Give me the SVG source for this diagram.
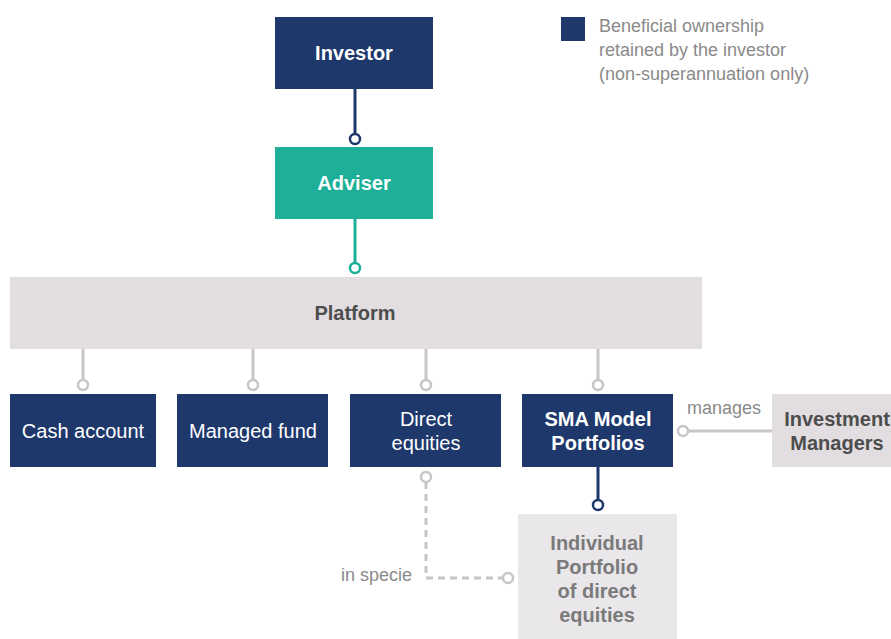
<svg xmlns="http://www.w3.org/2000/svg" width="891" height="639" viewBox="0 0 891 639">
<style>
.navy{fill:#1e386c}
.teal{fill:#1daf98}
.grey{fill:#e2dde0}
.lgrey{fill:#e9e7ea}
text{font-family:"Liberation Sans",Arial,sans-serif}
.tb{font-size:20px;font-weight:bold;text-anchor:middle}
.tw{fill:#ffffff}
.tn{font-size:20px;text-anchor:middle;fill:#ffffff}
.lab{font-size:18px;fill:#8a8a8a}
.ln{fill:none;stroke-width:3}
.dot{fill:#ffffff;stroke-width:2.5}
</style>
<rect width="891" height="639" fill="#ffffff"/>
<g id="legend">
<rect x="561" y="17" width="24" height="24" class="navy"/>
<text x="599" y="32" class="lab">Beneficial ownership</text>
<text x="599" y="56" class="lab">retained by the investor</text>
<text x="599" y="80" class="lab">(non-superannuation only)</text>
</g>
<g id="connectors">
<line x1="355" y1="89" x2="355" y2="134" class="ln" stroke="#1e386c"/>
<circle cx="355" cy="139" r="5" class="dot" stroke="#1e386c"/>
<line x1="355" y1="219" x2="355" y2="263" class="ln" stroke="#1daf98"/>
<circle cx="355" cy="268" r="5" class="dot" stroke="#1daf98"/>
<g stroke="#c9c4c8">
<line x1="83" y1="349" x2="83" y2="380" class="ln"/>
<circle cx="83" cy="385" r="5" class="dot"/>
<line x1="253" y1="349" x2="253" y2="380" class="ln"/>
<circle cx="253" cy="385" r="5" class="dot"/>
<line x1="426" y1="349" x2="426" y2="380" class="ln"/>
<circle cx="426" cy="385" r="5" class="dot"/>
<line x1="598" y1="349" x2="598" y2="380" class="ln"/>
<circle cx="598" cy="385" r="5" class="dot"/>
<line x1="688" y1="431" x2="772" y2="431" class="ln"/>
<circle cx="683" cy="431" r="5" class="dot"/>
<path d="M426 482 V578 H503" class="ln" stroke-dasharray="7,5"/>
<circle cx="426" cy="477" r="5" class="dot"/>
<circle cx="508" cy="578" r="5" class="dot"/>
</g>
<line x1="598" y1="467" x2="598" y2="500" class="ln" stroke="#1e386c"/>
<circle cx="598" cy="505" r="5" class="dot" stroke="#1e386c"/>
<text x="724" y="414" class="lab" text-anchor="middle">manages</text>
<text x="412" y="581" class="lab" text-anchor="end">in specie</text>
</g>
<g id="investor">
<rect x="275" y="17" width="158" height="72" class="navy"/>
<text x="354" y="60" class="tb tw">Investor</text>
</g>
<g id="adviser">
<rect x="275" y="147" width="158" height="72" class="teal"/>
<text x="354" y="190" class="tb tw">Adviser</text>
</g>
<g id="platform">
<rect x="10" y="277" width="692" height="72" class="grey"/>
<text x="355" y="320" class="tb" fill="#4d4d4d">Platform</text>
</g>
<g id="cash">
<rect x="10" y="394" width="146" height="73" class="navy"/>
<text x="83" y="438" class="tn">Cash account</text>
</g>
<g id="managed">
<rect x="177" y="394" width="151" height="73" class="navy"/>
<text x="253" y="438" class="tn">Managed fund</text>
</g>
<g id="direct">
<rect x="350" y="394" width="151" height="73" class="navy"/>
<text x="426" y="426" class="tn">Direct</text>
<text x="426" y="450" class="tn">equities</text>
</g>
<g id="sma">
<rect x="522" y="394" width="151" height="73" class="navy"/>
<text x="598" y="426" class="tb tw">SMA Model</text>
<text x="598" y="450" class="tb tw">Portfolios</text>
</g>
<g id="managers">
<rect x="772" y="394" width="119" height="73" class="grey"/>
<text x="837" y="426" class="tb" fill="#4d4d4d">Investment</text>
<text x="837" y="450" class="tb" fill="#4d4d4d">Managers</text>
</g>
<g id="individual">
<rect x="518" y="514" width="159" height="125" class="lgrey"/>
<text x="597" y="550" class="tb" fill="#7a7a7a">Individual</text>
<text x="597" y="574" class="tb" fill="#7a7a7a">Portfolio</text>
<text x="597" y="598" class="tb" fill="#7a7a7a">of direct</text>
<text x="597" y="622" class="tb" fill="#7a7a7a">equities</text>
</g>
</svg>
